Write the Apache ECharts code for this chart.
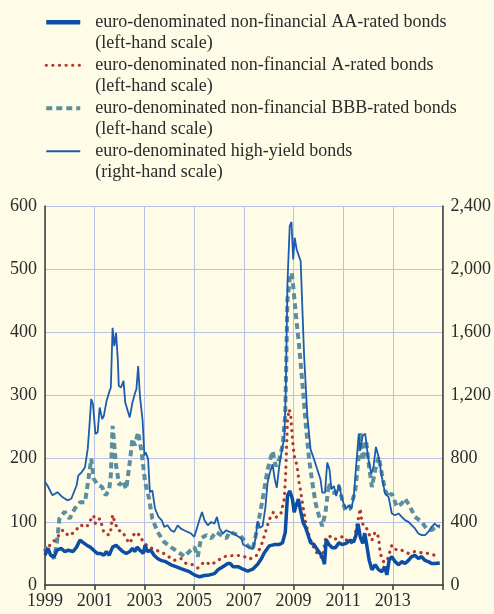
<!DOCTYPE html>
<html>
<head>
<meta charset="utf-8">
<script src="https://cdn.jsdelivr.net/npm/echarts/dist/echarts.min.js"></script>
<style>
  html, body { margin: 0; padding: 0; background: #fefce7; }
  #chart { width: 494px; height: 614px; }
</style>
</head>
<body>
<div id="chart"></div>
<script>
  // spreads, basis points: [year, value]
  const aaRated = [
    [1999.0, 47], [1999.12, 58], [1999.23, 47], [1999.37, 45], [1999.48, 55], [1999.65, 58], [1999.79, 53],
    [1999.93, 55], [2000.13, 53], [2000.27, 60], [2000.41, 71], [2000.54, 67], [2000.68, 63], [2000.82, 60],
    [2000.96, 55], [2001.1, 50], [2001.24, 50], [2001.37, 47], [2001.47, 53], [2001.58, 47], [2001.72, 60],
    [2001.86, 63], [2001.99, 58], [2002.13, 53], [2002.27, 50], [2002.41, 53], [2002.52, 58], [2002.61, 53],
    [2002.71, 60], [2002.82, 55], [2002.96, 50], [2003.03, 63], [2003.12, 53], [2003.26, 55], [2003.39, 47],
    [2003.53, 42], [2003.66, 39], [2003.86, 37], [2004.07, 32], [2004.27, 29], [2004.47, 26], [2004.61, 24],
    [2004.81, 21], [2005.01, 16], [2005.22, 13], [2005.42, 15], [2005.62, 16], [2005.82, 18], [2005.96, 24],
    [2006.16, 29], [2006.36, 34], [2006.46, 34], [2006.57, 29], [2006.77, 29], [2006.97, 25], [2007.16, 22],
    [2007.36, 25], [2007.56, 33], [2007.7, 41], [2007.83, 51], [2008.03, 62], [2008.23, 64], [2008.43, 64],
    [2008.56, 67], [2008.67, 83], [2008.76, 141], [2008.85, 149], [2008.96, 136], [2009.03, 115], [2009.1, 125],
    [2009.2, 136], [2009.29, 117], [2009.39, 99], [2009.49, 91], [2009.6, 78], [2009.69, 67], [2009.83, 64],
    [2009.96, 56], [2010.09, 49], [2010.19, 41], [2010.25, 33], [2010.32, 72], [2010.43, 64], [2010.56, 59],
    [2010.69, 59], [2010.83, 67], [2010.96, 64], [2011.12, 66], [2011.29, 71], [2011.42, 68], [2011.52, 79],
    [2011.6, 97], [2011.69, 76], [2011.79, 66], [2011.87, 82], [2011.96, 61], [2012.05, 39], [2012.16, 24],
    [2012.29, 32], [2012.43, 24], [2012.56, 21], [2012.67, 29], [2012.76, 16], [2012.85, 39], [2012.96, 45],
    [2013.09, 37], [2013.23, 32], [2013.36, 37], [2013.49, 34], [2013.63, 39], [2013.76, 45], [2013.89, 47],
    [2014.03, 42], [2014.16, 45], [2014.29, 39], [2014.43, 37], [2014.56, 34], [2014.69, 34], [2014.89, 35]
  ];

  const aRated = [
    [1999.0, 55], [1999.12, 60], [1999.3, 67], [1999.5, 76], [1999.72, 87], [1999.95, 78], [2000.2, 84],
    [2000.41, 95], [2000.68, 92], [2000.82, 102], [2000.96, 110], [2001.03, 97], [2001.2, 105], [2001.28, 96],
    [2001.37, 83], [2001.58, 79], [2001.65, 87], [2001.72, 111], [2001.79, 102], [2001.86, 99], [2001.93, 87],
    [2002.13, 84], [2002.27, 73], [2002.41, 66], [2002.54, 76], [2002.61, 83], [2002.82, 79], [2002.96, 67],
    [2003.19, 60], [2003.46, 55], [2003.66, 53], [2003.93, 46], [2004.2, 39], [2004.47, 42], [2004.68, 34],
    [2004.95, 32], [2005.15, 27], [2005.42, 37], [2005.69, 32], [2005.96, 39], [2006.23, 45], [2006.43, 46],
    [2006.7, 47], [2006.97, 46], [2007.23, 41], [2007.5, 46], [2007.7, 62], [2007.83, 78], [2008.03, 104],
    [2008.19, 115], [2008.29, 107], [2008.49, 112], [2008.63, 136], [2008.69, 178], [2008.76, 262], [2008.83, 278],
    [2008.89, 268], [2008.96, 231], [2009.03, 204], [2009.09, 199], [2009.16, 183], [2009.23, 162], [2009.29, 149],
    [2009.36, 130], [2009.49, 99], [2009.63, 78], [2009.76, 64], [2009.89, 54], [2010.03, 46], [2010.16, 43],
    [2010.29, 72], [2010.43, 78], [2010.63, 72], [2010.83, 75], [2011.03, 77], [2011.23, 66], [2011.43, 68],
    [2011.56, 97], [2011.63, 108], [2011.69, 121], [2011.76, 97], [2011.89, 95], [2012.0, 84], [2012.16, 71],
    [2012.29, 84], [2012.43, 76], [2012.49, 50], [2012.63, 37], [2012.76, 37], [2012.96, 63], [2013.16, 55],
    [2013.36, 55], [2013.63, 50], [2013.89, 53], [2014.16, 51], [2014.43, 50], [2014.69, 47], [2014.89, 46]
  ];

  const bbbRated = [
    [1999.0, 60], [1999.16, 53], [1999.37, 42], [1999.48, 68], [1999.58, 105], [1999.79, 116], [1999.99, 105],
    [2000.2, 121], [2000.41, 131], [2000.61, 131], [2000.75, 168], [2000.86, 200], [2000.96, 168], [2001.1, 160],
    [2001.3, 155], [2001.44, 142], [2001.58, 150], [2001.65, 173], [2001.72, 252], [2001.79, 221], [2001.86, 189],
    [2001.99, 158], [2002.13, 165], [2002.27, 152], [2002.41, 194], [2002.52, 231], [2002.61, 221], [2002.75, 242],
    [2002.89, 210], [2003.03, 163], [2003.19, 137], [2003.32, 105], [2003.53, 84], [2003.8, 68], [2004.07, 60],
    [2004.34, 53], [2004.61, 45], [2004.81, 53], [2005.01, 60], [2005.15, 45], [2005.28, 74], [2005.49, 79],
    [2005.69, 74], [2005.89, 84], [2006.09, 79], [2006.3, 74], [2006.43, 84], [2006.64, 81], [2006.84, 79],
    [2006.97, 73], [2007.16, 62], [2007.36, 56], [2007.56, 93], [2007.76, 136], [2007.96, 183], [2008.16, 212],
    [2008.29, 188], [2008.43, 199], [2008.56, 220], [2008.67, 268], [2008.76, 452], [2008.85, 484], [2008.93, 494],
    [2008.99, 473], [2009.09, 431], [2009.23, 378], [2009.36, 320], [2009.49, 257], [2009.63, 199], [2009.76, 162],
    [2009.89, 130], [2010.03, 109], [2010.16, 93], [2010.29, 115], [2010.43, 162], [2010.56, 146], [2010.69, 146],
    [2010.83, 157], [2010.96, 135], [2011.09, 118], [2011.29, 121], [2011.49, 150], [2011.6, 192], [2011.69, 242],
    [2011.79, 197], [2011.92, 229], [2012.03, 192], [2012.16, 155], [2012.29, 182], [2012.43, 203], [2012.56, 176],
    [2012.69, 150], [2012.83, 139], [2012.96, 145], [2013.16, 124], [2013.36, 129], [2013.49, 137], [2013.69, 124],
    [2013.89, 108], [2014.16, 100], [2014.36, 89], [2014.56, 87], [2014.76, 92], [2014.89, 93]
  ];

  const highYield = [
    [1999.0, 652], [1999.1, 630], [1999.3, 568], [1999.5, 588], [1999.7, 557], [1999.9, 536], [2000.06, 546],
    [2000.27, 630], [2000.34, 693], [2000.48, 715], [2000.61, 746], [2000.72, 862], [2000.79, 1009], [2000.86, 1177],
    [2000.93, 1146], [2001.03, 956], [2001.12, 967], [2001.2, 1124], [2001.3, 1051], [2001.37, 1072], [2001.48, 1167],
    [2001.58, 1219], [2001.65, 1251], [2001.72, 1629], [2001.79, 1513], [2001.86, 1597], [2001.93, 1429],
    [2001.97, 1261], [2002.06, 1251], [2002.16, 1293], [2002.23, 1156], [2002.31, 1146], [2002.41, 1061],
    [2002.52, 1156], [2002.63, 1219], [2002.68, 1240], [2002.75, 1387], [2002.82, 1198], [2002.93, 1040],
    [2003.0, 820], [2003.05, 841], [2003.15, 799], [2003.22, 588], [2003.32, 599], [2003.43, 483], [2003.57, 431],
    [2003.7, 410], [2003.8, 368], [2003.93, 378], [2004.07, 347], [2004.2, 336], [2004.34, 378], [2004.47, 357],
    [2004.6, 347], [2004.74, 336], [2004.88, 326], [2005.01, 305], [2005.08, 294], [2005.19, 399], [2005.32, 462],
    [2005.42, 410], [2005.55, 378], [2005.69, 399], [2005.82, 389], [2005.92, 431], [2006.03, 357], [2006.16, 326],
    [2006.3, 347], [2006.43, 336], [2006.57, 326], [2006.7, 315], [2006.9, 294], [2006.98, 255], [2007.1, 247],
    [2007.23, 236], [2007.36, 226], [2007.47, 289], [2007.56, 405], [2007.65, 363], [2007.76, 374], [2007.87, 490],
    [2007.96, 648], [2008.05, 711], [2008.16, 764], [2008.25, 669], [2008.33, 616], [2008.43, 754], [2008.56, 880],
    [2008.63, 922], [2008.69, 1218], [2008.76, 1914], [2008.85, 2273], [2008.92, 2299], [2008.99, 2062],
    [2009.05, 2199], [2009.13, 2125], [2009.29, 2052], [2009.43, 1450], [2009.56, 1070], [2009.69, 859],
    [2009.83, 796], [2009.96, 732], [2010.09, 669], [2010.16, 585], [2010.27, 585], [2010.36, 775], [2010.45, 732],
    [2010.53, 606], [2010.63, 627], [2010.72, 564], [2010.83, 637], [2010.93, 564], [2011.03, 510], [2011.12, 484],
    [2011.22, 505], [2011.33, 484], [2011.43, 558], [2011.52, 747], [2011.63, 958], [2011.69, 853], [2011.79, 947],
    [2011.89, 958], [2012.0, 811], [2012.13, 705], [2012.22, 747], [2012.32, 874], [2012.43, 811], [2012.56, 684],
    [2012.69, 579], [2012.83, 558], [2012.96, 453], [2013.09, 442], [2013.23, 453], [2013.36, 432], [2013.49, 411],
    [2013.63, 400], [2013.76, 379], [2013.89, 358], [2014.03, 326], [2014.16, 316], [2014.3, 316], [2014.43, 337],
    [2014.56, 368], [2014.69, 389], [2014.83, 368], [2014.89, 379]
  ];

  const seriesNames = [
    'euro-denominated non-financial AA-rated bonds',
    'euro-denominated non-financial A-rated bonds',
    'euro-denominated non-financial BBB-rated bonds',
    'euro-denominated high-yield bonds'
  ];
  const scaleNotes = ['(left-hand scale)', '(left-hand scale)', '(left-hand scale)', '(right-hand scale)'];

  const fontFamily = "'Liberation Serif', 'Times New Roman', serif";
  const textColor = '#2b2b2b';
  const gridColor = '#b9c2e6';
  const axisColor = '#3a3a3a';

  const lineStyles = [
    { color: '#0c4ea3', width: 3.5 },
    { color: '#b5372c', width: 3.2, type: [0.1, 6.5], cap: 'round' },
    { color: '#5a8ea0', width: 4, type: [6, 4] },
    { color: '#1c5cad', width: 1.8 }
  ];

  const chart = echarts.init(document.getElementById('chart'));

  const option = {
    backgroundColor: '#fefce7',
    animation: false,
    legend: {
      orient: 'vertical',
      left: 44,
      top: -10,
      padding: 0,
      itemGap: -21.5,
      itemWidth: 34,
      itemHeight: 14,
      selectedMode: false,
      itemStyle: { opacity: 0 },
      data: seriesNames.map((name, i) => ({
        name,
        lineStyle: Object.assign({}, lineStyles[i], i === 0 ? { width: 4.5 } : {})
      })),
      // blank first line keeps the icon level with the series name
      formatter: (name) => '\u00a0\n' + name + '\n' + scaleNotes[seriesNames.indexOf(name)],
      textStyle: {
        fontFamily,
        fontSize: 18,
        lineHeight: 21.5,
        color: textColor,
        padding: [0, 0, 0, 10]
      }
    },
    grid: {
      left: 45,
      right: 51,
      top: 206,
      bottom: 29
    },
    xAxis: {
      type: 'value',
      min: 1999,
      max: 2015,
      interval: 2,
      axisLine: { show: true, onZero: false, lineStyle: { color: axisColor, width: 1.5 } },
      axisTick: { show: true, inside: false, length: 5, lineStyle: { color: axisColor, width: 1.5 } },
      axisLabel: {
        fontFamily,
        fontSize: 18,
        color: textColor,
        margin: 7,
        formatter: (v) => (v >= 2015 ? '' : String(v))
      },
      splitLine: { show: true, lineStyle: { color: gridColor, width: 1 } }
    },
    yAxis: [
      {
        type: 'value',
        min: 0,
        max: 600,
        interval: 100,
        axisLine: { show: true, lineStyle: { color: axisColor, width: 1.5 } },
        axisTick: { show: false },
        axisLabel: { fontFamily, fontSize: 18, color: textColor, margin: 8 },
        splitLine: { show: true, lineStyle: { color: gridColor, width: 1 } }
      },
      {
        type: 'value',
        min: 0,
        max: 2400,
        interval: 400,
        position: 'right',
        axisLine: { show: true, lineStyle: { color: axisColor, width: 1.5 } },
        axisTick: { show: false },
        axisLabel: {
          fontFamily,
          fontSize: 18,
          color: textColor,
          margin: 8,
          formatter: (v) => v.toLocaleString('en-US')
        },
        splitLine: { show: false }
      }
    ],
    series: [
      {
        name: seriesNames[0],
        type: 'line',
        data: aaRated,
        showSymbol: false,
        symbol: 'none',
        z: 5,
        itemStyle: { color: lineStyles[0].color },
        lineStyle: lineStyles[0]
      },
      {
        name: seriesNames[1],
        type: 'line',
        data: aRated,
        showSymbol: false,
        symbol: 'none',
        z: 3,
        itemStyle: { color: lineStyles[1].color },
        lineStyle: lineStyles[1]
      },
      {
        name: seriesNames[2],
        type: 'line',
        data: bbbRated,
        showSymbol: false,
        symbol: 'none',
        z: 2,
        itemStyle: { color: lineStyles[2].color },
        lineStyle: lineStyles[2]
      },
      {
        name: seriesNames[3],
        type: 'line',
        yAxisIndex: 1,
        data: highYield,
        showSymbol: false,
        symbol: 'none',
        z: 4,
        itemStyle: { color: lineStyles[3].color },
        lineStyle: lineStyles[3]
      }
    ]
  };

  chart.setOption(option);
</script>
</body>
</html>
